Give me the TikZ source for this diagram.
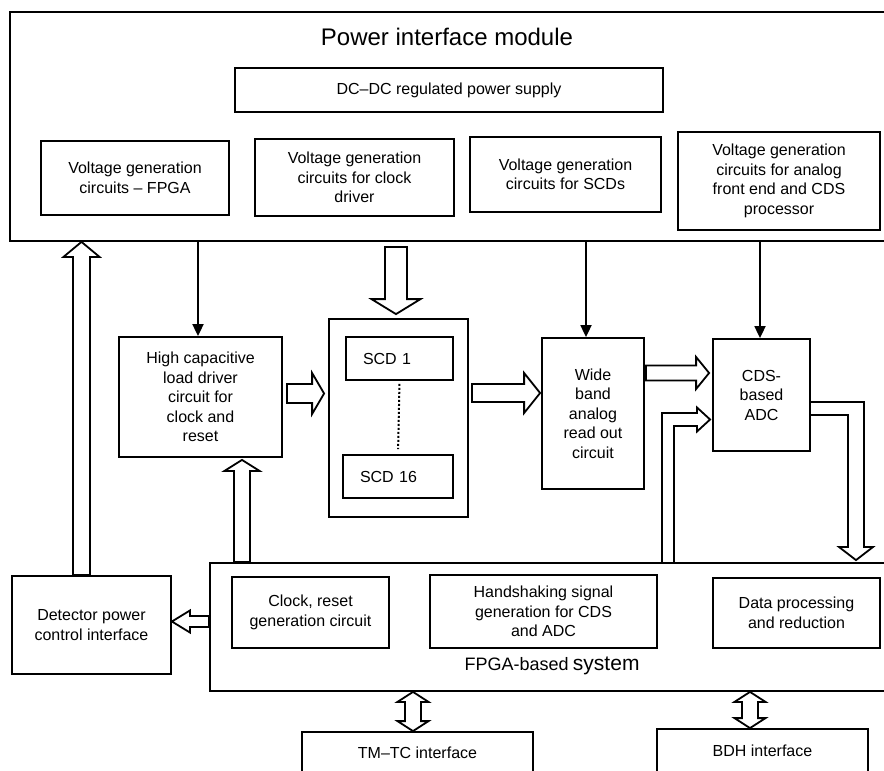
\documentclass[tikz,border=0pt]{standalone}
\usepackage{fontspec}
\setmainfont{Liberation Sans}
\usetikzlibrary{calc,arrows.meta}

\tikzset{
  % hollow block arrow: shaft half width / head half width / head length
  fat/.style args={#1/#2/#3}{to path={let \p1=(\tikztostart),\p2=(\tikztotarget),
      \n1={atan2(\y2-\y1,\x2-\x1)},\n2={veclen(\x2-\x1,\y2-\y1)} in
      [shift={(\p1)},rotate=\n1]
      (0,-#1) -- ({\n2-#3},-#1) -- ({\n2-#3},-#2) -- (\n2,0)
      -- ({\n2-#3},#2) -- ({\n2-#3},#1) -- (0,#1) -- cycle}},
  fatboth/.style args={#1/#2/#3}{to path={let \p1=(\tikztostart),\p2=(\tikztotarget),
      \n1={atan2(\y2-\y1,\x2-\x1)},\n2={veclen(\x2-\x1,\y2-\y1)} in
      [shift={(\p1)},rotate=\n1]
      (0,0) -- (#3,-#2) -- (#3,-#1) -- ({\n2-#3},-#1) -- ({\n2-#3},-#2) -- (\n2,0)
      -- ({\n2-#3},#2) -- ({\n2-#3},#1) -- (#3,#1) -- (#3,#2) -- cycle}},
  tip/.style={-{Triangle[length=12pt,width=11pt]}}
}

\begin{document}
\begin{tikzpicture}[x=1pt,y=-1pt,line width=1.8pt,font=\fontsize{16}{19.5}\selectfont]
  \useasboundingbox (0,0) rectangle (884,771);
  \clip (0,0) rectangle (884,771);
  \begin{scope}[every node/.style={draw,rectangle,align=center,inner sep=2pt}]
    % power interface module
    \node[minimum width=890,minimum height=229] (pim) at (455,126.5) {};
    \node[draw=none,font=\fontsize{24}{28}\selectfont] (title) at (447,37) {Power interface module};
    \node[minimum width=428,minimum height=44] (dcdc) at (449,90) {DC–DC regulated power supply};
    \node[minimum width=188,minimum height=74] (vgf) at (135,178) {Voltage generation\\circuits – FPGA};
    \node[minimum width=199,minimum height=77] (vgc) at (354.5,177.5) {Voltage generation\\circuits for clock\\driver};
    \node[minimum width=191,minimum height=75] (vgs) at (565.5,174.5) {Voltage generation\\circuits for SCDs};
    \node[minimum width=202,minimum height=98] (vga) at (779,181) {Voltage generation\\circuits for analog\\front end and CDS\\processor};
    % signal chain
    \node[minimum width=163,minimum height=120] (hcd) at (200.5,397) {High capacitive\\load driver\\circuit for\\clock and\\reset};
    \node[minimum width=139,minimum height=198] (scd) at (398.5,418) {};
    \node[minimum width=107,minimum height=43,text width=73,align=left] (scd1) at (399.5,358.5) {SCD 1};
    \node[minimum width=110,minimum height=43,text width=76,align=left] (scd16) at (398,476.5) {SCD 16};
    \node[minimum width=102,minimum height=151] (wide) at (593,413.5) {Wide\\band\\analog\\read out\\circuit};
    \node[minimum width=97,minimum height=112] (cds) at (761.5,395) {CDS-\\based\\ADC};
    % FPGA side
    \node[minimum width=159,minimum height=98] (det) at (91.5,625) {Detector power\\control interface};
    \node[minimum width=690,minimum height=128] (fpga) at (555,627) {};
    \node[minimum width=157,minimum height=71] (clk) at (310.5,612.5) {Clock, reset\\generation circuit};
    \node[minimum width=227,minimum height=73] (hsk) at (543.5,611.5) {Handshaking signal\\generation for CDS\\and ADC};
    \node[minimum width=167,minimum height=70] (dpr) at (796.5,613) {Data processing\\and reduction};
    \node[draw=none] (fpgalbl) at (552,666) {{\fontsize{18}{20}\selectfont FPGA-based} {\fontsize{21}{24}\selectfont system}};
    \node[minimum width=231,minimum height=41] (tmtc) at (417.5,752.5) {TM–TC interface};
    \node[minimum width=211,minimum height=43] (bdh) at (762.5,750.5) {BDH interface};
  \end{scope}
  \begin{scope}[every edge/.style={draw,line width=1.8pt}]
    % supply lines
    \path ($(hcd.north |- pim.south)+(-2.5,0)$) edge[tip] ($(hcd.north)+(-2.5,0)$);
    \path ($(wide.north |- pim.south)+(-7,0)$) edge[tip] ($(wide.north)+(-7,0)$);
    \path ($(cds.north |- pim.south)+(-1.5,0)$) edge[tip] ($(cds.north)+(-1.5,0)$);
    \path (scd1.south) edge[line width=2pt,dash pattern=on 2pt off 2pt,shorten <=3pt,shorten >=5pt] (scd16.north);
    % block arrows
    \path ($(det.north)+(-10,0)$) edge[fat=8.5/18/15] ($(det.north |- pim.south)+(-10,0)$);
    \path ($(scd.north |- pim.south)+(-2.5,5)$) edge[fat=11/24.5/15] ($(scd.north)+(-2.5,-4)$);
    \path ($(hcd.east)+(4,-3.5)$) edge[fat=9.5/20.5/12] ($(hcd.east -| scd.west)+(-4,-3.5)$);
    \path ($(scd.east)+(3,-25)$) edge[fat=9/20/16] ($(scd.east -| wide.west)+(-1,-25)$);
    \path ($(cds.west -| wide.east)+(1,-22)$) edge[fat=7.5/16/13] ($(cds.west)+(-3,-22)$);
    \path ($(fpga.north -| hcd.south)+(41.5,0)$) edge[fat=8/17.5/11] ($(hcd.south)+(41.5,2)$);
    \path ($(fpga.west)+(0,-5.5)$) edge[fat=5.5/11/18] ($(det.east |- fpga.west)+(0,-5.5)$);
    \path ($(tmtc.north |- fpga.south)+(-4.5,0)$) edge[fatboth=8/15.5/10] ($(tmtc.north)+(-4.5,0)$);
    \path ($(bdh.north |- fpga.south)+(-12.5,0)$) edge[fatboth=8/15.5/10] ($(bdh.north)+(-12.5,0)$);
  \end{scope}
  % bent block arrows
  \draw (662,563) -- (662,413) -- (697,413) -- (697,407.5) -- ($(cds.west)+(-2,24.5)$)
    -- (697,431.5) -- (697,426) -- (674,426) -- (674,563);
  \draw (cds.east |- 0,402) -- (864,402) -- (864,547) -- (873,547) -- ($(fpga.north)+(301,-2)$)
    -- (839,547) -- (848,547) -- (848,415) -- (cds.east |- 0,415);
\end{tikzpicture}
\end{document}
